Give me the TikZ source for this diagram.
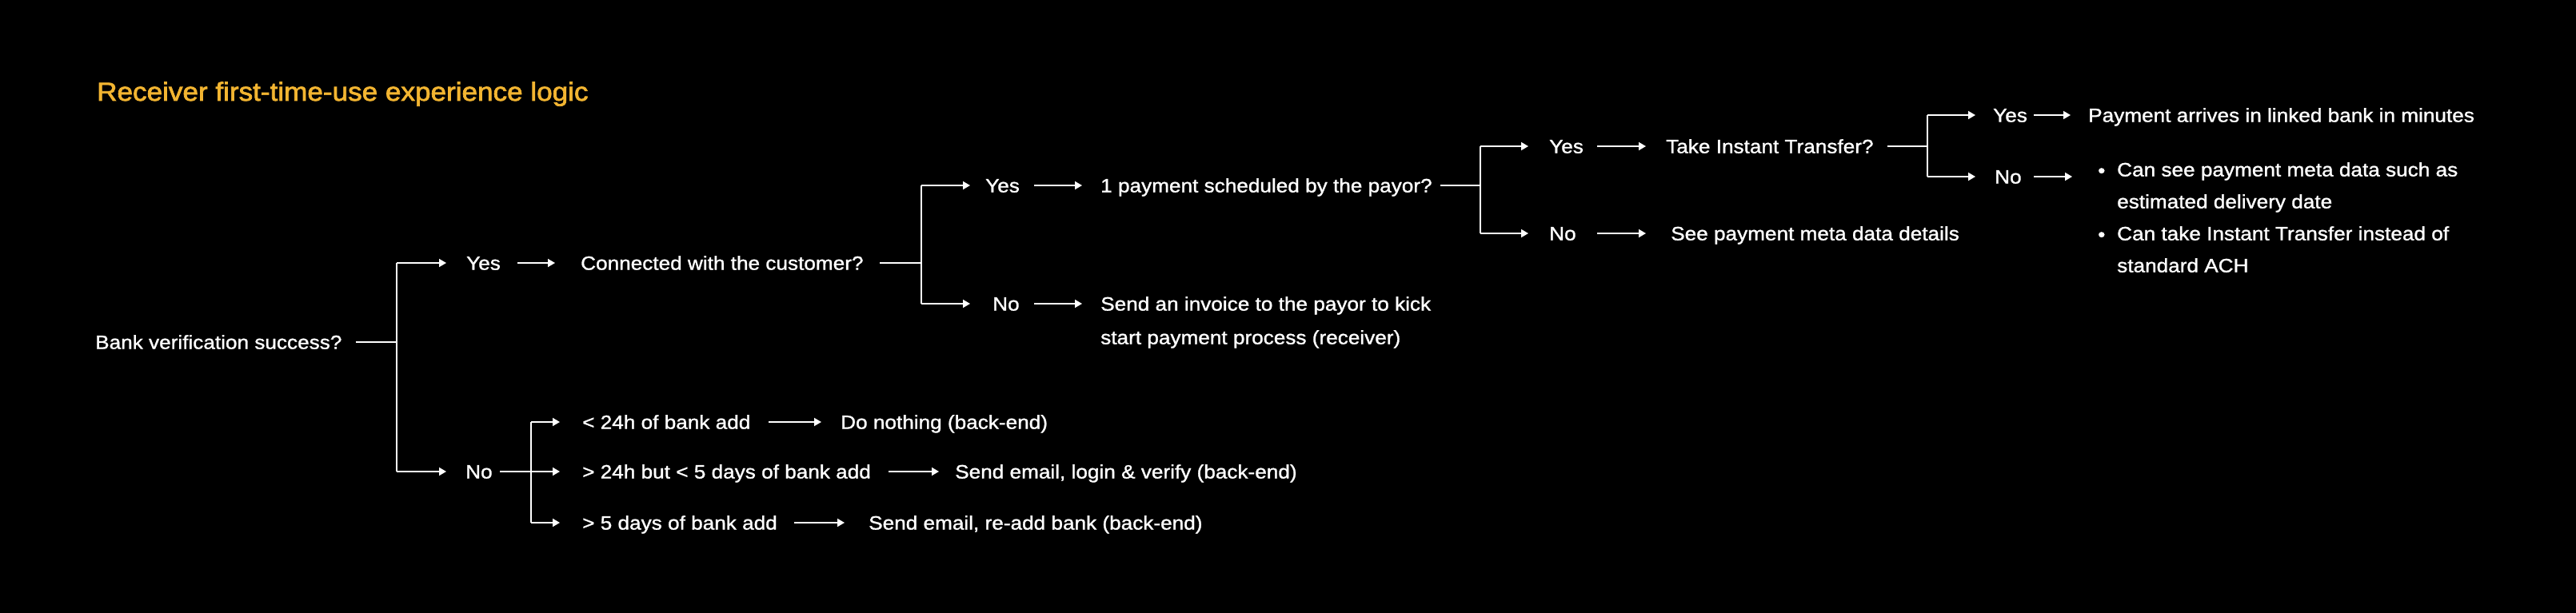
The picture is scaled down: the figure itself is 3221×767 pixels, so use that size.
\documentclass[tikz,border=0pt]{standalone}
\usepackage{fontspec}
\usetikzlibrary{arrows.meta}
\newfontfamily\bodyfont[FakeStretch=1.09,FakeBold=1.2]{Liberation Sans}
\newfontfamily\titlefont[FakeStretch=1.08,FakeBold=2.2]{Liberation Sans}
\definecolor{titlecol}{HTML}{F3B531}
\begin{document}
\begin{tikzpicture}[x=1pt,y=-1pt,
  txt/.style={font=\bodyfont\fontsize{24}{29}\selectfont, text=white, inner sep=0pt, anchor=west, text height=17.2pt, text depth=0pt},
  ttl/.style={font=\titlefont\fontsize{32.5}{38}\selectfont, text=titlecol, inner sep=0pt, anchor=base west},
  ln/.style={draw=white, line width=1.8pt},
  arr/.style={ln, -{Triangle[length=9pt,width=10pt]}}]
\fill[black] (0,0) rectangle (3221,767);
\useasboundingbox (0,0) rectangle (3221,767);

\node[ttl] (title) at (121,126) {Receiver first-time-use experience logic};

% nodes
\node[txt] (bank) at (119,428) {Bank verification success?};
\node[txt] (yesA) at (583,329) {Yes};
\node[txt] (conn) at (726,329) {Connected with the customer?};
\node[txt] (noA) at (582,590) {No};
\node[txt] (lt24) at (728,528) {< 24h of bank add};
\node[txt] (mid) at (728,590) {> 24h but < 5 days of bank add};
\node[txt] (gt5) at (728,654) {> 5 days of bank add};
\node[txt] (donothing) at (1051,528) {Do nothing (back-end)};
\node[txt] (sendlogin) at (1194,590) {Send email, login \& verify (back-end)};
\node[txt] (sendreadd) at (1086,654) {Send email, re-add bank (back-end)};
\node[txt] (yesB) at (1232,232) {Yes};
\node[txt] (pay1) at (1376,232) {1 payment scheduled by the payor?};
\node[txt] (noB) at (1241,380) {No};
\node[txt] (inv1) at (1376,380) {Send an invoice to the payor to kick};
\node[txt] (inv2) at (1376,422) {start payment process (receiver)};
\node[txt] (yesC) at (1937,183) {Yes};
\node[txt] (take) at (2083,183) {Take Instant Transfer?};
\node[txt] (noC) at (1937,292) {No};
\node[txt] (seemeta) at (2089,292) {See payment meta data details};
\node[txt] (yesD) at (2492,144) {Yes};
\node[txt] (arrives) at (2611,144) {Payment arrives in linked bank in minutes};
\node[txt] (noD) at (2494,221) {No};
\node[txt] (bul1) at (2623,213) {•};
\node[txt] (can1) at (2647,212) {Can see payment meta data such as};
\node[txt] (can1b) at (2647,252) {estimated delivery date};
\node[txt] (bul2) at (2623,293) {•};
\node[txt] (can2) at (2647,292) {Can take Instant Transfer instead of};
\node[txt] (can2b) at (2647,332) {standard ACH};

% junctions
\coordinate (j1) at (496,428);
\coordinate (j2) at (1152,332);
\coordinate (j3) at (1851,232);
\coordinate (j4) at (2410,183);
\coordinate (j5) at (664,590);

% level 1
\draw[ln] ([xshift=326]bank.west) -- (j1);
\draw[ln] (j1|-yesA.west) -- (j1|-noA.west);
\draw[arr] (j1|-yesA.west) -- ([xshift=-25]yesA.west);
\draw[arr] (j1|-noA.west) -- ([xshift=-24]noA.west);
\draw[arr] ([xshift=64]yesA.west) -- ([xshift=-32]conn.west);

% no branch
\draw[ln] ([xshift=43]noA.west) -- (j5);
\draw[ln] (j5|-lt24.west) -- (j5|-gt5.west);
\draw[arr] (j5|-lt24.west) -- ([xshift=-28]lt24.west);
\draw[arr] (j5) -- ([xshift=-28]mid.west);
\draw[arr] (j5|-gt5.west) -- ([xshift=-28]gt5.west);
\draw[arr] ([xshift=233]lt24.west) -- ([xshift=-24]donothing.west);
\draw[arr] ([xshift=383]mid.west) -- ([xshift=-20]sendlogin.west);
\draw[arr] ([xshift=265]gt5.west) -- ([xshift=-30]sendreadd.west);

% connected branch
\draw[ln] ([xshift=374]conn.west) -- (j2|-conn.west);
\draw[ln] (j2|-yesB.west) -- (j2|-noB.west);
\draw[arr] (j2|-yesB.west) -- ([xshift=-19]yesB.west);
\draw[arr] (j2|-noB.west) -- ([xshift=-28]noB.west);
\draw[arr] ([xshift=61]yesB.west) -- ([xshift=-23]pay1.west);
\draw[arr] ([xshift=52]noB.west) -- ([xshift=-23]inv1.west);

% payment scheduled branch
\draw[ln] ([xshift=425]pay1.west) -- (j3|-pay1.west);
\draw[ln] (j3|-yesC.west) -- (j3|-noC.west);
\draw[arr] (j3|-yesC.west) -- ([xshift=-26]yesC.west);
\draw[arr] (j3|-noC.west) -- ([xshift=-26]noC.west);
\draw[arr] ([xshift=60]yesC.west) -- ([xshift=-25]take.west);
\draw[arr] ([xshift=60]noC.west) -- ([xshift=-31]seemeta.west);

% instant transfer branch
\draw[ln] ([xshift=277]take.west) -- (j4|-take.west);
\draw[ln] (j4|-yesD.west) -- (j4|-noD.west);
\draw[arr] (j4|-yesD.west) -- ([xshift=-22]yesD.west);
\draw[arr] ([xshift=51]yesD.west) -- ([xshift=-22]arrives.west);
\draw[arr] (j4|-noD.west) -- ([xshift=-24]noD.west);
\draw[arr] ([xshift=49]noD.west) -- ([xshift=97]noD.west);
\end{tikzpicture}
\end{document}
